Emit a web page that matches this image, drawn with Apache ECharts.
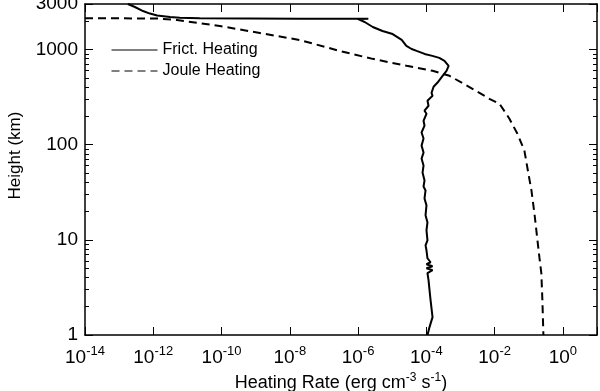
<!doctype html>
<html>
<head>
<meta charset="utf-8">
<title>Heating rate</title>
<script src="https://cdn.jsdelivr.net/npm/echarts@6/dist/echarts.min.js"></script>
<style>
html, body { margin: 0; padding: 0; background: #fff; }
#main { width: 600px; height: 391px; }
</style>
</head>
<body>
<div id="main"></div>
<script>
// frictional heating (solid line)
var fricRate = [1.8e-13, 2.9e-13, 5.0e-13, 8.0e-13, 1.3e-12, 3.1e-12, 6.0e-12, 2.3e-11, 6.7e-10, 1.95e-8,
	2.0e-6, 9.7e-7, 1.56e-6, 2.7e-6, 5.2e-6, 1.03e-5, 1.9e-5, 2.6e-5, 3.7e-5, 5.2e-5,
	8.9e-5, 1.5e-4, 2.4e-4, 3.4e-4, 4.5e-4, 3.9e-4, 3.0e-4, 2.1e-4, 1.63e-4, 1.86e-4,
	1.42e-4, 1.52e-4, 1.08e-4, 1.16e-4, 8.85e-5, 1.01e-4, 8.28e-5, 8.85e-5, 7.25e-5, 8.28e-5,
	7.25e-5, 8.28e-5, 7.25e-5, 8.28e-5, 7.74e-5, 8.85e-5, 8.28e-5, 9.48e-5, 8.85e-5, 1.01e-4,
	9.48e-5, 1.08e-4, 1.01e-4, 1.08e-4, 9.48e-5, 1.01e-4, 1.08e-4, 1.33e-4, 1.01e-4, 1.52e-4,
	1.01e-4, 1.52e-4, 1.08e-4, 1.16e-4, 1.24e-4, 1.33e-4, 1.52e-4, 1.24e-4, 1.08e-4];
var fricHeight = [3000, 2790, 2530, 2380, 2270, 2190, 2150, 2120, 2110, 2100,
	2100, 2090, 1940, 1720, 1560, 1450, 1260, 1090, 1010, 964,
	897, 855, 815, 758, 672, 596, 528, 446, 405, 386,
	350, 326, 289, 256, 227, 211, 178, 158, 134, 116,
	97.6, 82.5, 71.3, 60.3, 50.9, 42.0, 36.3, 33.0, 27.2, 23.0,
	18.1, 15.2, 12.6, 9.88, 8.75, 7.76, 6.40, 5.81, 5.54, 5.28,
	5.03, 4.80, 4.46, 3.77, 2.96, 2.33, 1.54, 1.21, 1];

// joule heating (dashed line)
var jouleRate = [1e-14, 1.28e-12, 4.9e-12, 8.9e-11, 1.32e-9, 1.95e-8, 2.88e-7, 2.67e-6, 2.64e-5, 1.52e-4,
	4.78e-4, 2.25e-3, 7.06e-3, 1.39e-2, 2.72e-2, 4.66e-2, 7.46e-2, 9.77e-2, 0.120, 0.147,
	0.205, 0.234, 0.251, 0.269];
var jouleHeight = [2128, 2112, 2037, 1762, 1489, 1257, 964, 796, 672, 596,
	528, 386, 303, 269, 187, 130, 86.5, 49.7, 33.0, 18.9,
	6.56, 4.46, 2.33, 1];

var rateLabels = [1e-14, 1e-12, 1e-10, 1e-8, 1e-6, 1e-4, 1e-2, 1];
var heightLabels = [1, 10, 100, 1000, 3000];

var font = 'Liberation Sans';

function pairs(xs, ys) {
	var out = [];
	for (var i = 0; i < xs.length; i++) {
		out.push([xs[i], ys[i]]);
	}
	return out;
}

// x: ticks every 2 decades
function xAx(pos) {
	return {
		type: 'log', position: pos, min: 1e-14, max: 10, interval: 2,
		axisLine: { show: true, onZero: false, lineStyle: { color: '#000', width: 1.5 } },
		axisTick: { show: true, inside: true, length: 8, lineStyle: { color: '#000', width: 1 } },
		axisLabel: { show: false },
		splitLine: { show: false }
	};
}

// y: ticks each decade, minor ticks at 2..9
function yAx(pos) {
	return {
		type: 'log', position: pos, min: 1, max: 3000, interval: 1,
		axisLine: { show: true, onZero: false, lineStyle: { color: '#000', width: 1.5 } },
		axisTick: { show: true, inside: true, length: 8, lineStyle: { color: '#000', width: 1 } },
		minorTick: { show: true, splitNumber: 9, length: 4, lineStyle: { color: '#000', width: 1 } },
		axisLabel: { show: false },
		splitLine: { show: false }
	};
}

var bottom = xAx('bottom');
bottom.axisLabel = {
	show: true, customValues: rateLabels, margin: 10,
	color: '#000', fontFamily: font, fontSize: 19,
	formatter: function (v) {
		return '10{e|' + Math.round(Math.log10(v)) + '}';
	},
	rich: { e: { fontSize: 13, fontFamily: font, color: '#000', padding: [0, 0, 12, 0] } }
};
bottom.name = 'Heating Rate (erg cm{e|-3} s{e|-1})';
bottom.nameLocation = 'middle';
bottom.nameGap = 31;
bottom.nameTextStyle = {
	color: '#000', fontFamily: font, fontSize: 18,
	rich: { e: { fontSize: 12, fontFamily: font, color: '#000', padding: [0, 0, 11, 0] } }
};

var left = yAx('left');
left.axisLabel = {
	show: true, customValues: heightLabels, margin: 7,
	color: '#000', fontFamily: font, fontSize: 19,
	formatter: function (v) { return String(v); }
};
left.name = 'Height (km)';
left.nameLocation = 'middle';
left.nameGap = 61;
left.nameTextStyle = { color: '#000', fontFamily: font, fontSize: 17, padding: [0, 0, 0, 28] };

var myChart = echarts.init(document.getElementById('main'));
var option = {
	animation: false,
	grid: { left: 85, right: 3, top: 4, bottom: 56, outerBoundsMode: 'none' },
	legend: {
		orient: 'vertical', left: 111, top: 42,
		itemWidth: 46, itemHeight: 14, itemGap: 5, padding: 0,
		lineStyle: { width: 1 },
		itemStyle: { opacity: 0 },
		textStyle: { color: '#000', fontFamily: font, fontSize: 16 },
		data: ['Frict. Heating', 'Joule Heating']
	},
	xAxis: [bottom, xAx('top')],
	yAxis: [left, yAx('right')],
	series: [{
		name: 'Frict. Heating',
		type: 'line',
		symbol: 'none',
		data: pairs(fricRate, fricHeight),
		lineStyle: { color: '#000', width: 2 },
		itemStyle: { color: '#000' }
	}, {
		name: 'Joule Heating',
		type: 'line',
		symbol: 'none',
		data: pairs(jouleRate, jouleHeight),
		lineStyle: { color: '#000', width: 2, type: [8, 5] },
		itemStyle: { color: '#000' }
	}]
};
myChart.setOption(option);
</script>
</body>
</html>
